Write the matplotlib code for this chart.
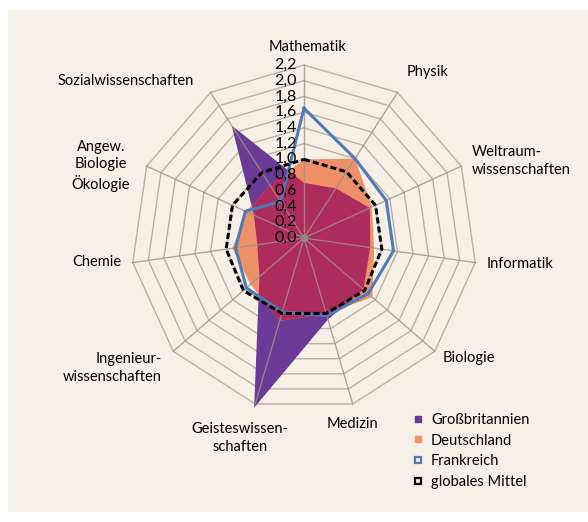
import numpy as np
import matplotlib.pyplot as plt
from matplotlib.lines import Line2D
from matplotlib.patches import Rectangle

plt.rcParams['font.family'] = ['Lato', 'DejaVu Sans']

categories = ["Mathematik", "Physik", "Weltraum-\nwissenschaften", "Informatik", "Biologie",
              "Medizin", "Geisteswissen-\nschaften", "Ingenieur-\nwissenschaften", "Chemie",
              "Angew.\nBiologie\nÖkologie", "Sozialwissenschaften"]
grossbritannien = [0.70, 0.75, 0.92, 0.85, 1.00, 1.08, 2.25, 0.75, 0.60, 0.70, 1.70]
deutschland = [1.00, 1.20, 0.95, 0.90, 1.15, 1.00, 1.10, 0.90, 0.92, 0.80, 0.80]
frankreich = [1.65, 1.20, 1.15, 1.15, 1.08, 1.03, 0.98, 0.97, 0.88, 0.82, 0.55]
globales_mittel = [1.00, 1.00, 1.00, 1.00, 1.02, 1.00, 1.00, 1.02, 1.00, 1.00, 0.99]
rings = [0.2, 0.4, 0.6, 0.8, 1.0, 1.2, 1.4, 1.6, 1.8, 2.0, 2.2]
tick_labels = ["0,0", "0,2", "0,4", "0,6", "0,8", "1,0", "1,2", "1,4", "1,6", "1,8", "2,0", "2,2"]
series_names = ["Großbritannien", "Deutschland", "Frankreich", "globales Mittel"]

# label placement in pixels (x, y, ha)
label_pos = [(308, 47, 'center'), (407, 72, 'left'), (472, 161, 'left'), (487, 264, 'left'),
             (443, 358, 'left'), (352, 424, 'center'), (240, 438, 'center'),
             (162, 368, 'right'), (121, 262, 'right'), (101, 166, 'center'), (126, 81, 'center')]

W, H = 588, 522
cx, cy, R = 304, 238, 173


def px(x, y):
    return x / W, 1 - y / H


fig = plt.figure(figsize=(W / 100, H / 100), dpi=100)
fig.patch.set_facecolor('white')
fig.patches.append(Rectangle(px(8, 512), (W - 8) / W, 502 / H, transform=fig.transFigure,
                             facecolor='#f7f0e6', edgecolor='none', zorder=-5))

ax = fig.add_axes([(cx - R) / W, (H - cy - R) / H, 2 * R / W, 2 * R / H], projection='polar')
ax.set_facecolor('none')
ax.set_theta_zero_location('N')
ax.set_theta_direction(-1)
ax.set_ylim(0, 2.2)
ax.grid(False)
ax.set_xticks([])
ax.set_yticks([])
ax.spines['polar'].set_visible(False)

n = len(categories)
theta = np.linspace(0, 2 * np.pi, n, endpoint=False)
tc = np.append(theta, theta[0])


def closed(v):
    return np.append(v, v[0])


# rings
for r in rings:
    ax.plot(tc, [r] * (n + 1), color='#bcb0a2', lw=1.0, zorder=1, clip_on=False)

# fills: overlap of the two countries drawn in crimson
gb = ax.fill(tc, closed(grossbritannien), color='#6a3a96', lw=0, zorder=2, clip_on=False)[0]
ax.fill(tc, closed(deutschland), color='#ee9068', lw=0, zorder=3, clip_on=False)
over = ax.fill(tc, closed(deutschland), color='#ad2b5d', lw=0, zorder=4)[0]
over.set_clip_path(gb)

# spokes
for t in theta:
    ax.plot([t, t], [0, 2.2], color='#9e9286', lw=1.0, alpha=0.8, zorder=5, clip_on=False)
ax.plot([0], [0], marker='o', ms=4, color='#8c8c8c', zorder=6)

ax.plot(tc, closed(frankreich), color='#4d7cb8', lw=2.2, zorder=7, clip_on=False)
ax.plot(tc, closed(globales_mittel), color='black', lw=2.2, ls=(0, (2, 1)), zorder=8, clip_on=False)

# tick labels along the first axis
for i, lab in enumerate(tick_labels):
    r = i * 0.2
    fig.text(*px(297, cy - r * R / 2.2), lab, ha='right', va='center', fontsize=11.5, zorder=9)

for lab, (x, y, ha) in zip(categories, label_pos):
    fig.text(*px(x, y), lab, ha=ha, va='center', fontsize=10.5, multialignment=ha,
             linespacing=1.3, zorder=9)

handles = [
    Line2D([], [], ls='none', marker='s', ms=5, mfc='#6a3a96', mec='#6a3a96'),
    Line2D([], [], ls='none', marker='s', ms=5, mfc='#ee9068', mec='#ee9068'),
    Line2D([], [], ls='none', marker='s', ms=5, mfc='#f7f0e6', mec='#4d7cb8', mew=1.6),
    Line2D([], [], ls='none', marker='s', ms=5, mfc='#f7f0e6', mec='black', mew=1.6),
]
fig.legend(handles, series_names, loc='upper left', bbox_to_anchor=px(412, 413), frameon=False,
           fontsize=10.5, handlelength=0.8, handletextpad=0.5, labelspacing=0.45,
           borderpad=0, borderaxespad=0)

fig.savefig('out.png', dpi=100)
